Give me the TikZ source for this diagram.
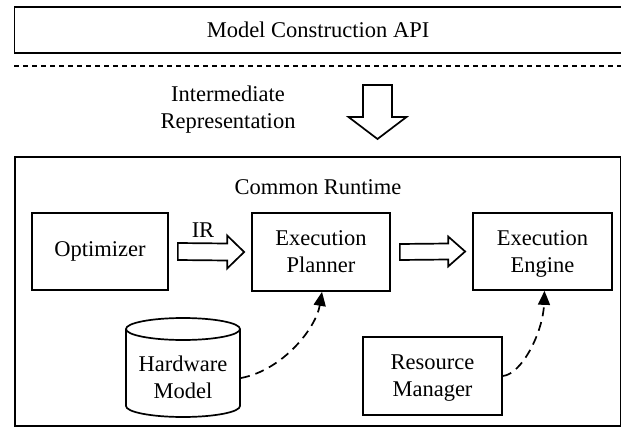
\documentclass[tikz,border=0pt]{standalone}
\usepackage{fontspec}
\setmainfont{Liberation Serif}
\usetikzlibrary{arrows.meta,calc}
\begin{document}
\begin{tikzpicture}[x=1pt,y=-1pt,
  box/.style={draw,line width=1.7pt,minimum width=138pt,minimum height=78pt,align=center,inner sep=0pt,font=\fontsize{22.5}{27}\selectfont},
  lbl/.style={align=center,inner sep=0pt,font=\fontsize{22.5}{27}\selectfont},
  hollow/.style={draw,line width=1.7pt,fill=white,line join=miter},
  dep/.style={draw,line width=1.7pt,dash pattern=on 9pt off 6pt,-{Triangle[length=14pt,width=12pt]}}]
\useasboundingbox (0,0) rectangle (621,428);
\clip (0,0) rectangle (621,428);
% top API box
\node[box,minimum width=607pt,minimum height=46pt] (api) at (318,30) {Model Construction API};
\coordinate (dl) at (14,66);
\coordinate (dr) at (621,66);
\draw[line width=2.2pt,dash pattern=on 5pt off 4pt] (dl) -- (dr);
% IR label and down arrow
\node[lbl] (irtext) at (228,110) {Intermediate\\Representation};
\coordinate (dtop) at (377.5,85);
\coordinate (dtip) at (377.5,139);
\draw[hollow] ($(dtop)+(-14.5,0)$) -- ($(dtop)+(14.5,0)$) -- ($(dtip)+(14.5,-22)$) -- ($(dtip)+(29,-22)$) -- (dtip) -- ($(dtip)+(-29,-22)$) -- ($(dtip)+(-14.5,-22)$) -- cycle;
% runtime container
\node[box,minimum width=606pt,minimum height=269pt] (rt) at (318,291.5) {};
\node[lbl] (rtl) at (318,187) {Common Runtime};
% components
\node[box,minimum width=136pt,minimum height=77pt] (opt) at (100,251.5) {Optimizer};
\node[box] (plan) at (321,252) {Execution\\Planner};
\node[box,minimum width=139pt,minimum height=77pt] (eng) at (542.5,251.5) {Execution\\\smash{Engine}};
\node[box,minimum width=139pt] (res) at (432.5,376) {Resource\\\smash{Manager}};
% hardware model cylinder
\draw[line width=1.7pt,fill=white] (126,329) -- (126,406) arc[start angle=180,end angle=360,x radius=57pt,y radius=11pt] -- (240,329);
\draw[line width=1.7pt] (183,329) ellipse[x radius=57pt,y radius=11pt];
\node[lbl] (hw) at (183,377) {Hardware\\Model};
\coordinate (hwr) at (241,378);
% hollow arrows
\draw[hollow] ($(opt.east)+(9,-8.5)$) -- ($(plan.west)+(-24,-8.5)$) -- ($(plan.west)+(-24,-16.5)$) -- ($(plan.west)+(-7,0)$) -- ($(plan.west)+(-24,16.5)$) -- ($(plan.west)+(-24,8.5)$) -- ($(opt.east)+(9,8.5)$) -- cycle;
\node[lbl] (irl) at (203,230) {IR};
\draw[hollow] ($(plan.east)+(9,-8)$) -- ($(eng.west)+(-24,-8)$) -- ($(eng.west)+(-24,-15)$) -- ($(eng.west)+(-7,0)$) -- ($(eng.west)+(-24,15)$) -- ($(eng.west)+(-24,8)$) -- ($(plan.east)+(9,8)$) -- cycle;
% dependency arrows
\draw[dep] (hwr) .. controls (283,370) and (316,328) .. ($(plan.south)+(1,0)$);
\draw[dep] (res.east) .. controls (522,374) and (543,332) .. ($(eng.south)+(2,0)$);
\end{tikzpicture}
\end{document}
